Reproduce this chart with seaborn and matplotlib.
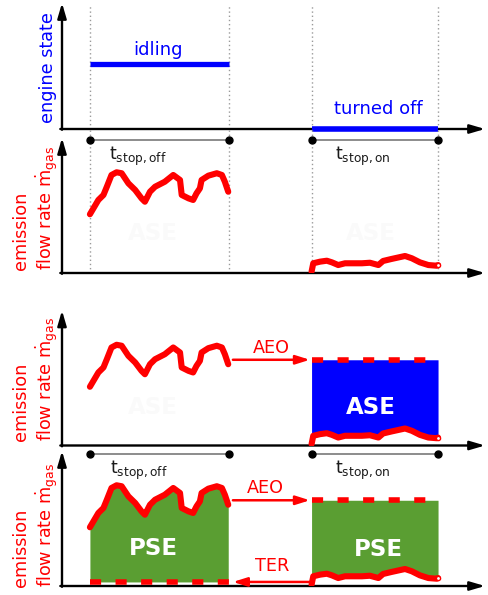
import numpy as np
import pandas as pd
import matplotlib
matplotlib.use("Agg")
import matplotlib.pyplot as plt
import seaborn as sns

# ---------------- data ----------------
# time axis units 0..100 ; flow-rate axis units 0..100
idle_interval = [6.6, 39.5]      # t_stop,off (engine idling)
off_interval = [59.1, 88.9]      # t_stop,on  (engine turned off)

state_labels = ["idling", "turned off"]
state_levels = [51.3, 0.0]

idle_t = [6.6, 8.6, 9.8, 10.6, 11.7, 12.9, 14.1, 15.7, 17.3, 18.8, 19.6, 20.8, 22.0,
          24.3, 26.3, 27.9, 28.3, 29.9, 31.0, 31.8, 32.6, 33.0, 34.6, 36.6, 37.8, 38.5, 39.3]
idle_flow = [43.5, 54.1, 57.8, 63.9, 72.6, 74.6, 73.9, 66.4, 61.5, 55.3, 52.8, 60.2, 63.9,
             67.6, 72.6, 68.9, 57.8, 55.3, 54.1, 59.0, 62.7, 68.9, 72.1, 73.9, 72.6, 67.6, 60.2]

off_t = [59.0, 59.4, 61.0, 62.6, 63.8, 65.3, 66.9, 68.5, 70.9, 72.8, 74.8, 75.9, 77.9,
         81.1, 82.7, 84.6, 86.6, 88.6, 88.9]
off_flow = [1.0, 7.2, 8.4, 9.1, 7.9, 5.9, 7.2, 7.2, 7.2, 7.6, 5.9, 8.9, 10.4,
            12.6, 10.9, 7.9, 5.9, 5.4, 5.9]

aeo_level = 63.5   # average emissions while idling
ter_level = 3.0    # emissions remaining when turned off

RED = "#ff0000"
BLUE = "#0000ff"
GREEN = "#5a9e32"
GRAY_DOT = "#9a9a9a"
FAINT = "#fafafa"

sns.set_theme(style="white")
plt.rcParams["font.family"] = ["DejaVu Sans"]
plt.rcParams["mathtext.fontset"] = "dejavusans"

W, H = 489, 595
fig = plt.figure(figsize=(W / 100, H / 100), dpi=100)
fig.patch.set_facecolor("white")


def make_ax(bottom_px, top_px):
    ax = fig.add_axes([62 / W, 1 - bottom_px / H, 423 / W, (bottom_px - top_px) / H])
    ax.set_xlim(0, 100)
    ax.set_ylim(0, 100)
    ax.axis("off")
    ax.patch.set_alpha(0)
    kw = dict(arrowstyle="-|>,head_length=0.75,head_width=0.22", color="black",
              lw=1.7, shrinkA=0, shrinkB=0)
    ax.annotate("", xy=(1.0, 0), xytext=(-0.004, 0), xycoords="axes fraction", arrowprops=kw)
    ax.annotate("", xy=(0, 1.0), xytext=(0, -0.006), xycoords="axes fraction", arrowprops=kw)
    return ax


def flow_curves(ax):
    d1 = pd.DataFrame({"t": idle_t, "flow": idle_flow})
    d2 = pd.DataFrame({"t": off_t, "flow": off_flow})
    sns.lineplot(data=d1, x="t", y="flow", ax=ax, color=RED, lw=4.4,
                 estimator=None, sort=False, solid_capstyle="round", solid_joinstyle="round", zorder=5)
    sns.lineplot(data=d2, x="t", y="flow", ax=ax, color=RED, lw=4.4,
                 estimator=None, sort=False, solid_capstyle="round", solid_joinstyle="round", zorder=5)
    ax.plot([off_t[-1]], [off_flow[-1]], "o", ms=3, mfc="white", mec=RED, mew=1, zorder=6)
    ax.set_xlabel("")
    ax.set_ylabel("")
    ax.axis("off")


def interval_marks(ax, y):
    for s, e in (idle_interval, off_interval):
        ax.plot([s, e], [y, y], color="#8c8c8c", lw=1.4, zorder=3, clip_on=False)
        ax.plot([s, e], [y, y], "o", color="black", ms=5, zorder=4, clip_on=False)


def t_labels(ax, y, dx_off=0.0):
    ax.text(17.9 + dx_off, y, r"$\mathrm{t}_{\mathrm{stop,off}}$", ha="center", va="center",
            fontsize=12.5, color="#1a1a1a")
    ax.text(71.2, y, r"$\mathrm{t}_{\mathrm{stop,on}}$", ha="center", va="center",
            fontsize=12.5, color="#1a1a1a")


def flow_ylabel(bottom_px):
    fig.text(36 / W, 1 - bottom_px / H, "emission\nflow rate $\\dot{\\mathrm{m}}_{\\mathrm{gas}}$",
             rotation=90, ha="center", va="bottom", multialignment="left",
             fontsize=12.7, color=RED)


arrow_kw = dict(arrowstyle="-|>,head_length=0.7,head_width=0.22", color=RED, lw=1.8,
                shrinkA=0, shrinkB=0)
dash_kw = dict(color=RED, lw=4.0, dashes=(2.0, 2.6), solid_capstyle="butt", zorder=5)

# ---------------- panel 1: engine state ----------------
ax1 = make_ax(129, 3)
for x in idle_interval + off_interval:
    ax1.axvline(x, ymin=0, ymax=0.98, color=GRAY_DOT, lw=1, ls=(0, (1, 2)), zorder=1)
ax1.hlines(state_levels[0], idle_interval[0], idle_interval[1], color=BLUE, lw=3.8, zorder=4)
ax1.hlines(state_levels[1], off_interval[0], off_interval[1], color=BLUE, lw=4.0, zorder=6,
           clip_on=False)
ax1.text(22.7, 62.7, state_labels[0], ha="center", va="center", fontsize=13, color=BLUE)
ax1.text(74.7, 15.9, state_labels[1], ha="center", va="center", fontsize=13, color=BLUE)
fig.text(48 / W, 1 - 68 / H, "engine state", rotation=90, ha="center", va="center",
         fontsize=12.7, color=BLUE)

# ---------------- panel 2: emission flow rate ----------------
ax2 = make_ax(273, 138)
for x in idle_interval + off_interval:
    ax2.axvline(x, ymin=0, ymax=1.067, color=GRAY_DOT, lw=1, ls=(0, (1, 2)), zorder=1,
                clip_on=False)
flow_curves(ax2)
interval_marks(ax2, 98.5)
t_labels(ax2, 86.5)
ax2.text(21.5, 29.6, "ASE", ha="center", va="center", fontsize=16.5, fontweight="bold",
         color=FAINT)
ax2.text(73.0, 29.6, "ASE", ha="center", va="center", fontsize=16.5, fontweight="bold",
         color=FAINT)
flow_ylabel(270)

# ---------------- panel 3: avoided start-stop emissions ----------------
ax3 = make_ax(445.5, 310.5)
ax3.fill_between(off_t, off_flow, aeo_level, color=BLUE, lw=0, zorder=2)
flow_curves(ax3)
ax3.plot(off_interval, [aeo_level, aeo_level], **dash_kw)
ax3.annotate("", xy=(58.6, aeo_level), xytext=(40.4, aeo_level), xycoords="data",
             arrowprops=arrow_kw)
ax3.text(49.6, 72.2, "AEO", ha="center", va="center", fontsize=12.7, color=RED)
ax3.text(73.0, 28.5, "ASE", ha="center", va="center", fontsize=16.5, fontweight="bold",
         color="white", zorder=7)
ax3.text(21.5, 28.5, "ASE", ha="center", va="center", fontsize=16.5, fontweight="bold",
         color=FAINT)
flow_ylabel(441)

# ---------------- panel 4: potential start-stop emissions ----------------
ax4 = make_ax(586, 451)
ax4.fill_between(idle_t, idle_flow, ter_level, color=GREEN, lw=0, zorder=2)
ax4.fill_between(off_t, off_flow, aeo_level, color=GREEN, lw=0, zorder=2)
flow_curves(ax4)
ax4.plot(off_interval, [aeo_level, aeo_level], **dash_kw)
ax4.plot(idle_interval, [ter_level, ter_level], **dash_kw)
ax4.annotate("", xy=(58.6, aeo_level), xytext=(40.4, aeo_level), xycoords="data",
             arrowprops=arrow_kw)
ax4.annotate("", xy=(40.4, ter_level), xytext=(58.6, ter_level), xycoords="data",
             arrowprops=arrow_kw)
ax4.text(48.0, 72.4, "AEO", ha="center", va="center", fontsize=12.7, color=RED)
ax4.text(49.6, 14.8, "TER", ha="center", va="center", fontsize=12.7, color=RED)
ax4.text(21.6, 27.9, "PSE", ha="center", va="center", fontsize=16.5, fontweight="bold",
         color="white", zorder=7)
ax4.text(74.8, 26.7, "PSE", ha="center", va="center", fontsize=16.5, fontweight="bold",
         color="white", zorder=7)
interval_marks(ax4, 97.8)
t_labels(ax4, 85.6, dx_off=0.3)
flow_ylabel(587)

fig.savefig("out.png", dpi=100, facecolor="white")
